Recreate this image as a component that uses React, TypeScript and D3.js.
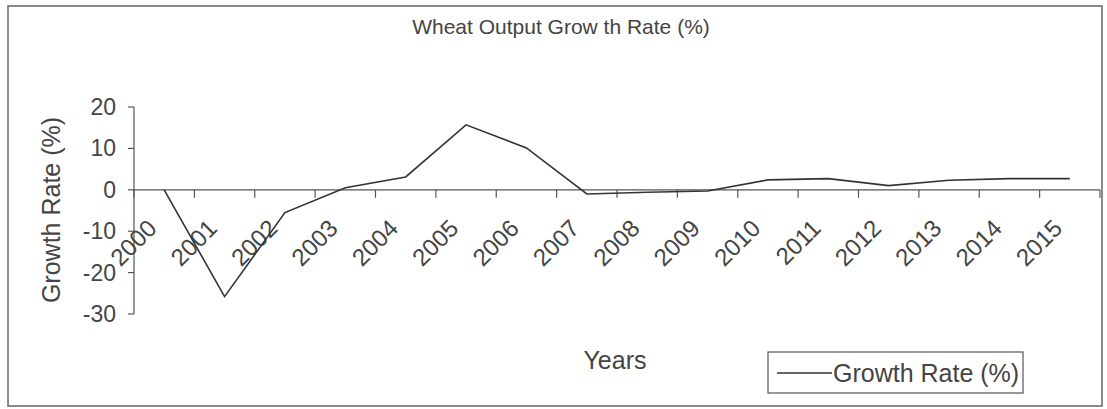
import React from 'react'
import * as d3 from 'd3'

const years = ['2000', '2001', '2002', '2003', '2004', '2005', '2006', '2007', '2008', '2009', '2010', '2011', '2012', '2013', '2014', '2015']
const growth = [0, -25.8, -5.5, 0.5, 3.1, 15.7, 10.1, -1, -0.6, -0.3, 2.4, 2.7, 1.0, 2.3, 2.7, 2.7]
const yTicks = [20, 10, 0, -10, -20, -30]

const App = () => {
  const width = 1107
  const height = 409
  const font = 'Arial, "Liberation Sans", sans-serif'
  const ink = '#444'

  const x = d3.scaleBand().domain(years).range([134, 1100])
  const y = d3.scaleLinear().domain([-30, 20]).range([314, 107])
  const cx = (d) => x(d) + x.bandwidth() / 2

  const line = d3.line()
    .x((d, i) => cx(years[i]))
    .y((d) => y(d))

  const boundaries = years.map((d) => x(d)).concat([x.range()[1]])

  return (
    <svg width={width} height={height} style={{ position: 'absolute', left: 0, top: 0 }}>
      <rect x={0} y={0} width={width} height={height} fill="#fff" />
      <rect x={8} y={6} width={1094} height={400} fill="none" stroke="#666" strokeWidth={1.5} />

      <text x={561} y={34} textAnchor="middle" fontFamily={font} fontSize={21} fill={ink}>
        Wheat Output Grow th Rate (%)
      </text>

      {/* y axis */}
      <line x1={134} x2={134} y1={y(20)} y2={y(-30)} stroke="#555" strokeWidth={1.2} />
      {yTicks.map((t) => (
        <g key={t}>
          <line x1={128} x2={134} y1={y(t)} y2={y(t)} stroke="#555" strokeWidth={1.2} />
          <text x={116} y={y(t) + 8} textAnchor="end" fontFamily={font} fontSize={23} fill={ink}>
            {t}
          </text>
        </g>
      ))}
      <text
        transform={`translate(60, 210) rotate(-90)`}
        textAnchor="middle"
        fontFamily={font}
        fontSize={25}
        fill={ink}
      >
        Growth Rate (%)
      </text>

      {/* x axis at zero */}
      <line x1={134} x2={1100} y1={y(0)} y2={y(0)} stroke="#555" strokeWidth={1.2} />
      {boundaries.map((b, i) => (
        <line key={i} x1={b} x2={b} y1={y(0)} y2={y(0) + 8} stroke="#555" strokeWidth={1.2} />
      ))}
      {years.map((d) => (
        <text
          key={d}
          transform={`translate(${cx(d) - 6}, ${y(0) + 40}) rotate(-45)`}
          textAnchor="end"
          fontFamily={font}
          fontSize={24}
          fill={ink}
        >
          {d}
        </text>
      ))}

      <path d={line(growth)} fill="none" stroke="#333" strokeWidth={1.6} />

      <text x={615} y={369} textAnchor="middle" fontFamily={font} fontSize={25} fill={ink}>
        Years
      </text>

      {/* legend */}
      <rect x={768} y={352} width={255} height={41} fill="none" stroke="#555" strokeWidth={1.2} />
      <line x1={777} x2={832} y1={373} y2={373} stroke="#333" strokeWidth={1.6} />
      <text x={833} y={382} fontFamily={font} fontSize={25} fill={ink}>
        Growth Rate (%)
      </text>
    </svg>
  )
}

export default App
